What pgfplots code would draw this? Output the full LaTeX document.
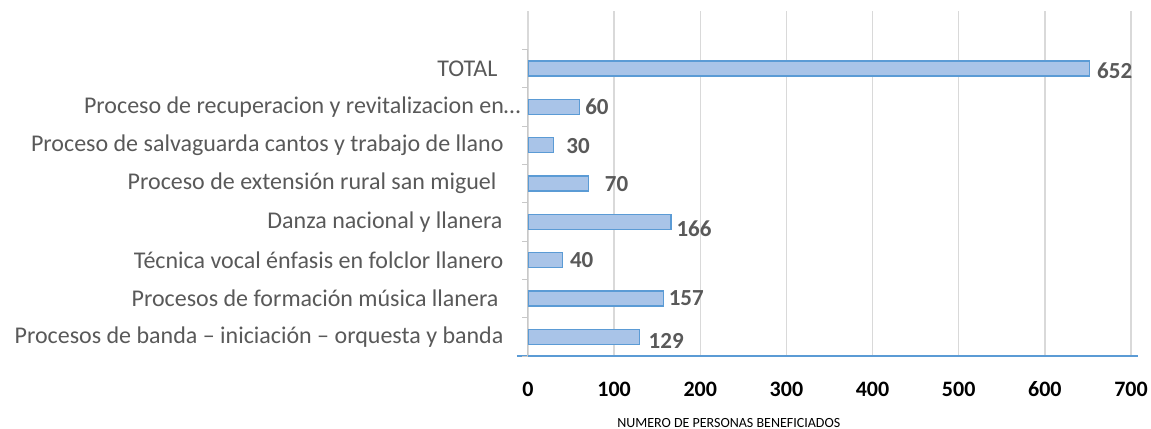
\documentclass[border=0pt]{standalone}
\usepackage{fontspec}
\setmainfont{Carlito}
\usepackage{pgfplots}
\pgfplotsset{compat=1.18}
\usepackage{pgfplotstable}
\definecolor{barfill}{HTML}{A9C4E8}
\definecolor{barline}{HTML}{5B9BD5}
\definecolor{lbl}{HTML}{595959}
\definecolor{gridc}{HTML}{D9D9D9}
\definecolor{axc}{HTML}{C8C8C8}
\pgfplotstableread{
y val dx dy
0 129 9 -4
1 157 5 0
2 40 7 0
3 166 5 -7
4 70 16 -1
5 30 12 -1
6 60 5 0
7 652 7 -2
}\datatable
\begin{document}
\begin{tikzpicture}
\begin{axis}[
  scale only axis,
  width=603bp, height=345bp,
  xmin=0, xmax=700,
  ymin=-0.5, ymax=8.5,
  xtick={0,100,...,700},
  xticklabels={0,100,200,300,400,500,600,700},
  ytick={0,...,7},
  yticklabels={
    Procesos de banda – iniciación – orquesta y banda,
    Procesos de formación música llanera\hspace*{5bp},
    Técnica vocal énfasis en folclor llanero,
    Danza nacional y llanera\hspace*{1bp},
    Proceso de extensión rural san miguel\hspace*{7bp},
    Proceso de salvaguarda cantos y trabajo de llano,
    Proceso de recuperacion y revitalizacion en…\hspace*{-17bp},
    TOTAL\hspace*{6bp}},
  axis x line*=bottom,
  axis y line*=left,
  y axis line style={draw=none},
  x axis line style={draw=barline, line width=1.2pt, shorten <=-11bp, shorten >=-7bp, -},
  xmajorgrids,
  major grid style={draw=gridc, line width=1.5pt},
  major tick length=0pt,
  xticklabel style={font=\fontsize{22bp}{24bp}\selectfont\bfseries, text=black, anchor=base, yshift=-40bp},
  yticklabel style={font=\fontsize{24bp}{28bp}\selectfont, text=lbl, anchor=east, xshift=-21bp},
  /pgf/number format/assume math mode=true,
  xlabel={NUMERO DE PERSONAS BENEFICIADOS},
  xlabel style={font=\fontsize{14bp}{16bp}\selectfont, text=black, at={(axis description cs:0.333,0)}, anchor=center, yshift=-67bp},
  xbar, bar width=15bp,
  clip=false,
  visualization depends on={\thisrow{dx} \as \dx},
  visualization depends on={\thisrow{dy} \as \dy},
  nodes near coords,
  nodes near coords style={font=\fontsize{23bp}{26bp}\selectfont\bfseries, text=lbl, anchor=west, xshift=\dx bp, yshift=\dy bp, inner sep=0pt},
  point meta=explicit,
]
\addplot[draw=barline, line width=1.2pt, fill=barfill] table[x=val, y=y, meta=val] {\datatable};
\draw[axc, line width=1pt] (axis cs:0,-0.5) -- (axis cs:0,7.5);
\pgfplotsinvokeforeach{-0.5,0.5,1.5,2.5,3.5,4.5,5.5,6.5,7.5}{\draw[axc, line width=1pt] (axis cs:0,#1) -- ++(-6bp,0bp);}
\end{axis}
\pgfresetboundingbox
\path (-528bp,-73bp) rectangle (623bp,356bp);
\end{tikzpicture}
\end{document}
